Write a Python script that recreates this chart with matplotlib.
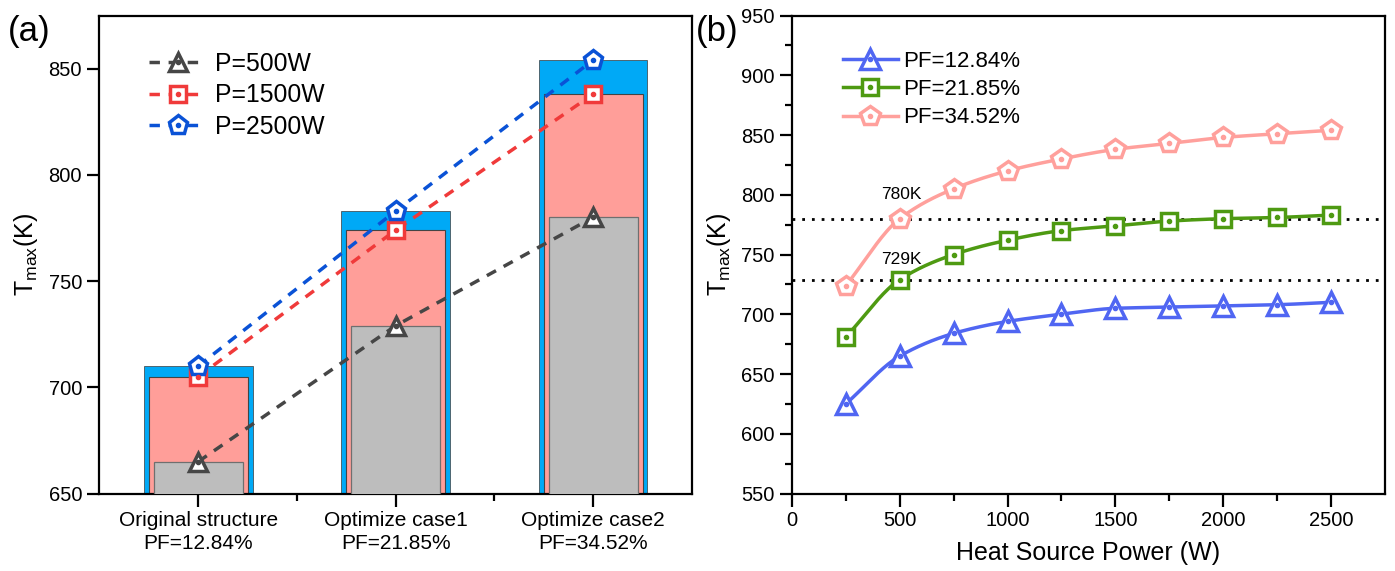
import numpy as np
import matplotlib.pyplot as plt
from matplotlib.lines import Line2D

plt.rcParams['font.family'] = ['Liberation Sans', 'DejaVu Sans']
plt.rcParams['mathtext.fontset'] = 'custom'
plt.rcParams['mathtext.rm'] = 'Liberation Sans'
plt.rcParams['mathtext.it'] = 'Liberation Sans'

# panel (a): peak temperature for each structure at three heat source powers
cases = ['Original structure\nPF=12.84%', 'Optimize case1\nPF=21.85%', 'Optimize case2\nPF=34.52%']
t_500w = [665, 729, 780]
t_1500w = [705, 774, 838]
t_2500w = [710, 783, 854]

# panel (b): peak temperature vs heat source power
power = [250, 500, 750, 1000, 1250, 1500, 1750, 2000, 2250, 2500]
t_pf1284 = [625, 665, 684, 694, 700, 705, 706, 707, 708, 710]
t_pf2185 = [681, 729, 750, 762, 770, 774, 778, 780, 781, 783]
t_pf3452 = [724, 780, 805, 820, 830, 838, 843, 848, 851, 854]
ref_lines = [780, 729]


def pchip(x, y, n=300):
    # monotone cubic, just for drawing a smooth curve through the points
    x = np.asarray(x, float)
    y = np.asarray(y, float)
    h = np.diff(x)
    d = np.diff(y) / h
    m = np.zeros_like(y)
    for k in range(1, len(x) - 1):
        if d[k - 1] * d[k] > 0:
            w1 = 2 * h[k] + h[k - 1]
            w2 = h[k] + 2 * h[k - 1]
            m[k] = (w1 + w2) / (w1 / d[k - 1] + w2 / d[k])
    m[0] = d[0]
    m[-1] = d[-1]
    xs = np.linspace(x[0], x[-1], n)
    idx = np.clip(np.searchsorted(x, xs) - 1, 0, len(x) - 2)
    t = (xs - x[idx]) / h[idx]
    h00 = 2 * t**3 - 3 * t**2 + 1
    h10 = t**3 - 2 * t**2 + t
    h01 = -2 * t**3 + 3 * t**2
    h11 = t**3 - t**2
    ys = h00 * y[idx] + h10 * h[idx] * m[idx] + h01 * y[idx + 1] + h11 * h[idx] * m[idx + 1]
    return xs, ys


fig = plt.figure(figsize=(13.95, 5.71), dpi=100)
ax1 = fig.add_axes([0.0713, 0.1357, 0.4247, 0.8371])
ax2 = fig.add_axes([0.5677, 0.1357, 0.4251, 0.8371])

for ax in (ax1, ax2):
    for s in ax.spines.values():
        s.set_linewidth(1.6)
    ax.tick_params(which='major', direction='out', length=9, width=1.6, labelsize=14.5)
    ax.tick_params(which='minor', direction='out', length=5, width=1.6)

# ---- (a)
xpos = np.arange(len(cases))
ax1.bar(xpos, t_2500w, width=0.55, bottom=0, color='#00A9F6', edgecolor='#3a3a3a', linewidth=0.5, zorder=1)
ax1.bar(xpos, t_1500w, width=0.50, bottom=0, color='#FF9E99', edgecolor='#444444', linewidth=0.8, zorder=2)
ax1.bar(xpos, t_500w, width=0.45, bottom=0, color='#BDBDBD', edgecolor='#6f6f6f', linewidth=0.9, zorder=3)

series_a = [
    (t_500w, '#464646', '^', 13, 'P=500W'),
    (t_1500w, '#F03A3A', 's', 11, 'P=1500W'),
    (t_2500w, '#0A52D6', 'p', 14, 'P=2500W'),
]
handles_a = []
for vals, col, mk, ms, lab in series_a:
    ax1.plot(xpos, vals, ls=(0, (3, 2.5)), lw=2.5, color=col, marker=mk, ms=ms,
             mfc='white', mec=col, mew=2.5, zorder=5)
    ax1.plot(xpos, vals, ls='none', marker='o', ms=3, color=col, zorder=6)
    h1 = Line2D([], [], ls=(0, (3, 2.5)), lw=2.5, color=col, marker=mk, ms=ms,
                mfc='white', mec=col, mew=2.5)
    h2 = Line2D([], [], ls='none', marker='o', ms=3, color=col)
    handles_a.append(((h1, h2), lab))

ax1.set_xlim(-0.5, 2.5)
ax1.set_ylim(650, 875)
ax1.set_xticks(xpos)
ax1.set_xticks([0.5, 1.5], minor=True)
ax1.set_xticklabels(cases, fontsize=15, linespacing=1.3)
ax1.set_yticks([650, 700, 750, 800, 850])
ax1.set_ylabel('T$_{\\mathregular{max}}$(K)', fontsize=18, labelpad=6)
ax1.legend([h for h, _ in handles_a], [l for _, l in handles_a], loc='upper left',
           bbox_to_anchor=(0.055, 0.96), frameon=False, fontsize=17.8, handlelength=2.3,
           handletextpad=0.35, labelspacing=0.3, borderpad=0.2)

# ---- (b)
series_b = [
    (t_pf1284, '#5066F2', '^', 14, 'PF=12.84%'),
    (t_pf2185, '#4E9A12', 's', 12, 'PF=21.85%'),
    (t_pf3452, '#FFA09C', 'p', 15, 'PF=34.52%'),
]
handles_b = []
for vals, col, mk, ms, lab in series_b:
    xs, ys = pchip(power, vals)
    ax2.plot(xs, ys, lw=2.5, color=col, zorder=3)
    ax2.plot(power, vals, ls='none', marker=mk, ms=ms, mfc='white', mec=col, mew=2.5, zorder=4)
    ax2.plot(power, vals, ls='none', marker='o', ms=3, color=col, zorder=5)
    h1 = Line2D([], [], lw=2.5, color=col, marker=mk, ms=ms, mfc='white', mec=col, mew=2.5)
    h2 = Line2D([], [], ls='none', marker='o', ms=3, color=col)
    handles_b.append(((h1, h2), lab))

for yv in ref_lines:
    ax2.axhline(yv, color='black', ls=(0, (1, 2.5)), lw=2, zorder=2)
ax2.text(415, 800, '%dK' % ref_lines[0], fontsize=12.5, va='center', ha='left')
ax2.text(415, 746, '%dK' % ref_lines[1], fontsize=12.5, va='center', ha='left')

ax2.set_xlim(0, 2750)
ax2.set_ylim(550, 950)
ax2.set_xticks([0, 500, 1000, 1500, 2000, 2500])
ax2.set_xticks(np.arange(250, 2750, 500), minor=True)
ax2.set_yticks(np.arange(550, 951, 50))
ax2.set_yticks(np.arange(575, 950, 50), minor=True)
ax2.set_xlabel('Heat Source Power (W)', fontsize=18, labelpad=8)
ax2.set_ylabel('T$_{\\mathregular{max}}$(K)', fontsize=18, labelpad=6)
ax2.legend([h for h, _ in handles_b], [l for _, l in handles_b], loc='upper left',
           bbox_to_anchor=(0.06, 0.958), frameon=False, fontsize=16, handlelength=2.45,
           handletextpad=0.25, labelspacing=0.32, borderpad=0.2)

fig.text(0.006, 0.945, '(a)', fontsize=25, va='center', ha='left')
fig.text(0.499, 0.945, '(b)', fontsize=25, va='center', ha='left')

fig.savefig('out.png', dpi=100)
